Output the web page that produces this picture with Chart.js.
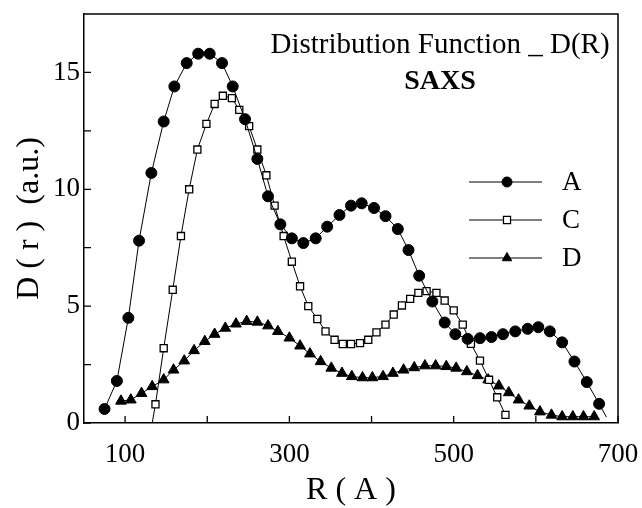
<!DOCTYPE html>
<html>
<head>
<meta charset="utf-8">
<script src="https://cdn.jsdelivr.net/npm/chart.js@4"></script>
<style>
  html, body { margin: 0; padding: 0; background: #fff; }
  canvas { display: block; }
</style>
</head>
<body>
<canvas id="saxsChart" width="642" height="508"></canvas>
<script>
// ===== DATA =====
const rA = [75, 90, 104, 117, 132, 147, 160, 175, 189, 203, 218, 231, 246, 261, 274, 289, 303, 317, 332, 346, 361, 375, 388, 403, 417, 432, 445, 458, 474, 489, 502, 517, 532, 546, 560, 575, 590, 603, 617, 632, 647, 662, 677, 686];
const dA = [0.6, 1.8, 4.5, 7.8, 10.7, 12.9, 14.4, 15.4, 15.8, 15.8, 15.4, 14.4, 13.0, 11.3, 9.7, 8.5, 7.9, 7.7, 7.9, 8.4, 8.9, 9.3, 9.4, 9.2, 8.85, 8.3, 7.4, 6.3, 5.2, 4.3, 3.8, 3.6, 3.63, 3.68, 3.8, 3.92, 4.03, 4.1, 3.92, 3.45, 2.63, 1.75, 0.82, 0.25];

const rC = [133, 137, 147, 158, 168, 178, 188, 199, 209, 219, 230, 239, 251, 261, 272, 282, 293, 303, 313, 323, 334, 344, 355, 365, 375, 386, 396, 406, 417, 427, 437, 447, 457, 467, 479, 489, 500, 511, 521, 532, 543, 553, 563];
const dC = [0, 0.8, 3.2, 5.7, 8.0, 10.0, 11.7, 12.8, 13.65, 14.0, 13.9, 13.4, 12.7, 11.7, 10.6, 9.3, 8.0, 6.9, 5.85, 5.0, 4.45, 3.92, 3.56, 3.38, 3.38, 3.42, 3.56, 3.88, 4.21, 4.64, 5.03, 5.31, 5.57, 5.64, 5.57, 5.24, 4.82, 4.21, 3.39, 2.67, 1.85, 1.1, 0.35];

const rD = [95, 107, 120, 133, 147, 159, 172, 184, 197, 209, 222, 235, 248, 261, 274, 286, 300, 313, 325, 338, 351, 364, 376, 389, 401, 414, 426, 439, 452, 465, 478, 491, 503, 516, 529, 542, 555, 567, 579, 592, 605, 619, 632, 645, 658, 671];
const dD = [0.94, 0.99, 1.27, 1.56, 1.85, 2.27, 2.66, 3.1, 3.49, 3.8, 4.06, 4.24, 4.35, 4.32, 4.16, 3.92, 3.64, 3.3, 2.96, 2.63, 2.35, 2.13, 1.99, 1.94, 1.94, 1.99, 2.13, 2.27, 2.37, 2.45, 2.45, 2.42, 2.35, 2.2, 2.03, 1.85, 1.59, 1.3, 0.99, 0.73, 0.48, 0.34, 0.27, 0.27, 0.27, 0.27];

const xTicks = [100, 200, 300, 400, 500, 600, 700];
const xLabels = [100, 300, 500, 700];
const yTicks = [0, 2.5, 5, 7.5, 10, 12.5, 15];
const yLabels = [0, 5, 10, 15];

const seriesNames = ['A', 'C', 'D'];
const titleLines = ['Distribution Function _ D(R)', 'SAXS'];

const SERIF = "'Liberation Serif', 'Times New Roman', serif";

function toPoints(xs, ys) {
    return xs.map((x, i) => ({ x: x, y: ys[i] }));
}

// sin marcador en los extremos donde la linea solo baja al eje
function radiusSkip(size, skip) {
    return function(ctx) {
        return skip.includes(ctx.dataIndex) ? 0 : size;
    };
}

// quitar el relleno automatico por etiquetas que sobresalen
function noOverflow(scale) {
    scale.paddingLeft = 0;
    scale.paddingRight = 0;
    scale.paddingTop = 0;
    scale.paddingBottom = 0;
}

// ===== PLUGIN: marcas hacia dentro, marco, titulo y leyenda =====
const framePlugin = {
    id: 'framePlugin',
    afterDraw(chart) {
        const ctx = chart.ctx;
        const area = chart.chartArea;
        const xScale = chart.scales.x;
        const yScale = chart.scales.y;
        const TICK = 7;
        ctx.save();

        // Marcas de los ejes (hacia dentro)
        ctx.strokeStyle = '#000';
        ctx.lineWidth = 1.3;
        ctx.beginPath();
        xScale.ticks.forEach(function(t) {
            const px = xScale.getPixelForValue(t.value);
            ctx.moveTo(px, area.bottom);
            ctx.lineTo(px, area.bottom - TICK);
        });
        yScale.ticks.forEach(function(t) {
            const py = yScale.getPixelForValue(t.value);
            ctx.moveTo(area.left, py);
            ctx.lineTo(area.left + TICK, py);
        });
        ctx.stroke();

        // Marco superior y derecho
        ctx.lineWidth = 1.5;
        ctx.beginPath();
        ctx.moveTo(area.left, area.top);
        ctx.lineTo(area.right, area.top);
        ctx.lineTo(area.right, area.bottom);
        ctx.stroke();

        // Titulo interno
        ctx.fillStyle = '#000';
        ctx.textAlign = 'center';
        ctx.textBaseline = 'alphabetic';
        ctx.font = '29px ' + SERIF;
        ctx.fillText(titleLines[0], 440, 53);
        ctx.font = 'bold 28px ' + SERIF;
        ctx.fillText(titleLines[1], 440, 89);

        // Leyenda
        const rows = [182, 220, 258];
        chart.data.datasets.forEach(function(ds, i) {
            const y = rows[i];
            ctx.strokeStyle = '#000';
            ctx.lineWidth = 1;
            ctx.beginPath();
            ctx.moveTo(469, y);
            ctx.lineTo(542, y);
            ctx.stroke();

            ctx.fillStyle = ds.pointBackgroundColor;
            ctx.strokeStyle = ds.pointBorderColor;
            ctx.lineWidth = ds.pointBorderWidth;
            Chart.helpers.drawPoint(ctx, {
                pointStyle: ds.pointStyle,
                radius: ds.legendRadius,
                borderWidth: ds.pointBorderWidth
            }, 507, y);

            ctx.fillStyle = '#000';
            ctx.font = '27px ' + SERIF;
            ctx.textAlign = 'left';
            ctx.textBaseline = 'middle';
            ctx.fillText(seriesNames[i], 562, y + 1);
        });

        ctx.restore();
    }
};

// ===== CHART =====
function initChart() {
    const canvas = document.getElementById('saxsChart');
    new Chart(canvas, {
        type: 'scatter',
        data: {
            datasets: [
                {
                    label: seriesNames[0],
                    data: toPoints(rA, dA),
                    showLine: true,
                    borderColor: '#000',
                    borderWidth: 1,
                    pointStyle: 'circle',
                    pointRadius: radiusSkip(5.5, [rA.length - 1]),
                    legendRadius: 5,
                    pointBackgroundColor: '#000',
                    pointBorderColor: '#000',
                    pointBorderWidth: 1
                },
                {
                    label: seriesNames[1],
                    data: toPoints(rC, dC),
                    showLine: true,
                    borderColor: '#000',
                    borderWidth: 1,
                    pointStyle: 'rect',
                    pointRadius: radiusSkip(5, [0]),
                    legendRadius: 5,
                    pointBackgroundColor: '#fff',
                    pointBorderColor: '#000',
                    pointBorderWidth: 1.3
                },
                {
                    label: seriesNames[2],
                    data: toPoints(rD, dD),
                    showLine: true,
                    borderColor: '#000',
                    borderWidth: 1,
                    pointStyle: 'triangle',
                    pointRadius: 6.2,
                    legendRadius: 5.5,
                    pointBackgroundColor: '#000',
                    pointBorderColor: '#000',
                    pointBorderWidth: 1
                }
            ]
        },
        options: {
            responsive: false,
            animation: false,
            events: [],
            layout: { padding: { top: 14, right: 24, left: 0, bottom: 0 } },
            plugins: {
                legend: { display: false },
                tooltip: { enabled: false }
            },
            scales: {
                x: {
                    type: 'linear',
                    position: 'bottom',
                    min: 50,
                    max: 700,
                    afterBuildTicks: function(scale) {
                        scale.ticks = xTicks.map(v => ({ value: v }));
                    },
                    afterFit: function(scale) {
                        scale.height = 85;
                        noOverflow(scale);
                    },
                    ticks: {
                        autoSkip: false,
                        maxRotation: 0,
                        color: '#000',
                        padding: 16,
                        font: { family: SERIF, size: 27 },
                        callback: function(v) { return xLabels.includes(v) ? String(v) : ''; }
                    },
                    grid: { drawOnChartArea: false, drawTicks: false },
                    border: { color: '#000', width: 1.5 },
                    title: {
                        display: true,
                        text: 'R ( A )',
                        color: '#000',
                        font: { family: SERIF, size: 32 },
                        padding: { top: 0, bottom: -2 }
                    }
                },
                y: {
                    type: 'linear',
                    position: 'left',
                    min: 0,
                    max: 17.5,
                    afterBuildTicks: function(scale) {
                        scale.ticks = yTicks.map(v => ({ value: v }));
                    },
                    afterFit: function(scale) {
                        scale.width = 84;
                        noOverflow(scale);
                    },
                    ticks: {
                        color: '#000',
                        padding: 4,
                        font: { family: SERIF, size: 27 },
                        callback: function(v) { return yLabels.includes(v) ? String(v) : ''; }
                    },
                    grid: { drawOnChartArea: false, drawTicks: false },
                    border: { color: '#000', width: 1.5 },
                    title: {
                        display: true,
                        text: 'D ( r )  (a.u.)',
                        color: '#000',
                        font: { family: SERIF, size: 32 },
                        padding: { top: 10, bottom: 0 }
                    }
                }
            }
        },
        plugins: [framePlugin]
    });
}

document.addEventListener('DOMContentLoaded', initChart);
</script>
</body>
</html>
